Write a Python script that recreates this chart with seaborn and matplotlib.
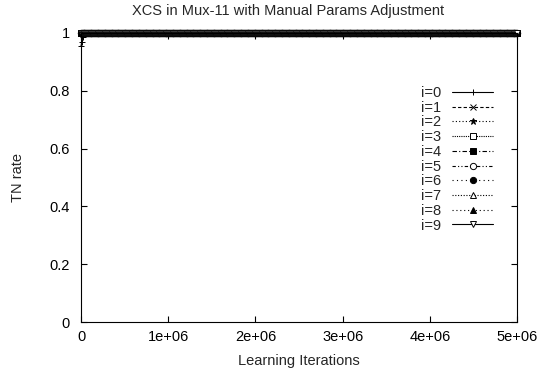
import matplotlib
matplotlib.use("Agg")
import matplotlib.pyplot as plt
import seaborn as sns
import pandas as pd

# ---- data ----
iterations = [k * 10000 for k in range(0, 501)]
series_names = ["i=0", "i=1", "i=2", "i=3", "i=4", "i=5", "i=6", "i=7", "i=8", "i=9"]
tn_head = [0.955, 0.97, 0.985, 0.995]   # early dip of series i=0
tn_rest = 1.0
x_ticks = [0, 1000000, 2000000, 3000000, 4000000, 5000000]
x_labels = ["0", "1e+06", "2e+06", "3e+06", "4e+06", "5e+06"]
y_ticks = [0, 0.2, 0.4, 0.6, 0.8, 1.0]
y_labels = ["0", "0.2", "0.4", "0.6", "0.8", "1"]

rows = []
for si, name in enumerate(series_names):
    for j, it in enumerate(iterations):
        v = tn_head[j] if (si == 0 and j < len(tn_head)) else tn_rest
        rows.append({"series": name, "iter": it, "tn": v})
df = pd.DataFrame(rows)

# ---- style ----
sns.set_style("ticks")
plt.rcParams["font.family"] = ["Liberation Sans", "DejaVu Sans"]
FS = 10.5

styles = [
    dict(linestyle="-", marker="+", mfc="black"),
    dict(linestyle=(0, (3, 2)), marker="x", mfc="black"),
    dict(linestyle=(0, (1, 2)), marker="*", mfc="black"),
    dict(linestyle=(0, (1, 1)), marker="s", mfc="white"),
    dict(linestyle=(0, (4, 2, 1, 2)), marker="s", mfc="black"),
    dict(linestyle=(0, (3, 2, 1, 2, 1, 2)), marker="o", mfc="white"),
    dict(linestyle=(0, (1, 3)), marker="o", mfc="black"),
    dict(linestyle=(0, (1, 1.5)), marker="^", mfc="white"),
    dict(linestyle=(0, (1, 2.5)), marker="^", mfc="black"),
    dict(linestyle="-", marker="v", mfc="white"),
]

fig = plt.figure(figsize=(5.39, 3.73), dpi=100)
ax = fig.add_axes([81 / 539, 1 - 322 / 373, (517 - 81) / 539, (322 - 33) / 373])

for name, st in zip(series_names, styles):
    sub = df[df["series"] == name]
    sns.lineplot(data=sub, x="iter", y="tn", ax=ax, color="black", linewidth=0.8,
                 linestyle=st["linestyle"], marker=st["marker"], markersize=4.5,
                 markerfacecolor=st["mfc"], markeredgecolor="black", markeredgewidth=0.7,
                 label=name, legend=False, clip_on=False)

ax.set_xlim(0, 5000000)
ax.set_ylim(0, 1)
ax.set_xticks(x_ticks)
ax.set_xticklabels(x_labels)
ax.set_yticks(y_ticks)
ax.set_yticklabels(y_labels)
ax.tick_params(direction="in", top=True, right=True, length=4, width=0.8,
               labelsize=FS, colors="black")
ax.tick_params(axis="x", pad=6)
ax.tick_params(axis="y", pad=8)
for s in ax.spines.values():
    s.set_color("black")
    s.set_linewidth(0.8)

ax.set_xlabel("Learning Iterations", fontsize=FS, labelpad=7)
ax.set_ylabel("TN rate", fontsize=FS, labelpad=18)
fig.text(288 / 539, 1 - 11 / 373, "XCS in Mux-11 with Manual Params Adjustment",
         fontsize=FS, ha="center", va="center")

handles, labels = ax.get_legend_handles_labels()
fig.legend(handles, labels, loc="upper right", bbox_to_anchor=(493 / 539, 1 - 86 / 373),
           frameon=False, markerfirst=False, fontsize=FS, handlelength=2.8,
           handletextpad=0.75, labelspacing=0.05, borderpad=0, borderaxespad=0)

fig.savefig("out.png", dpi=100)
